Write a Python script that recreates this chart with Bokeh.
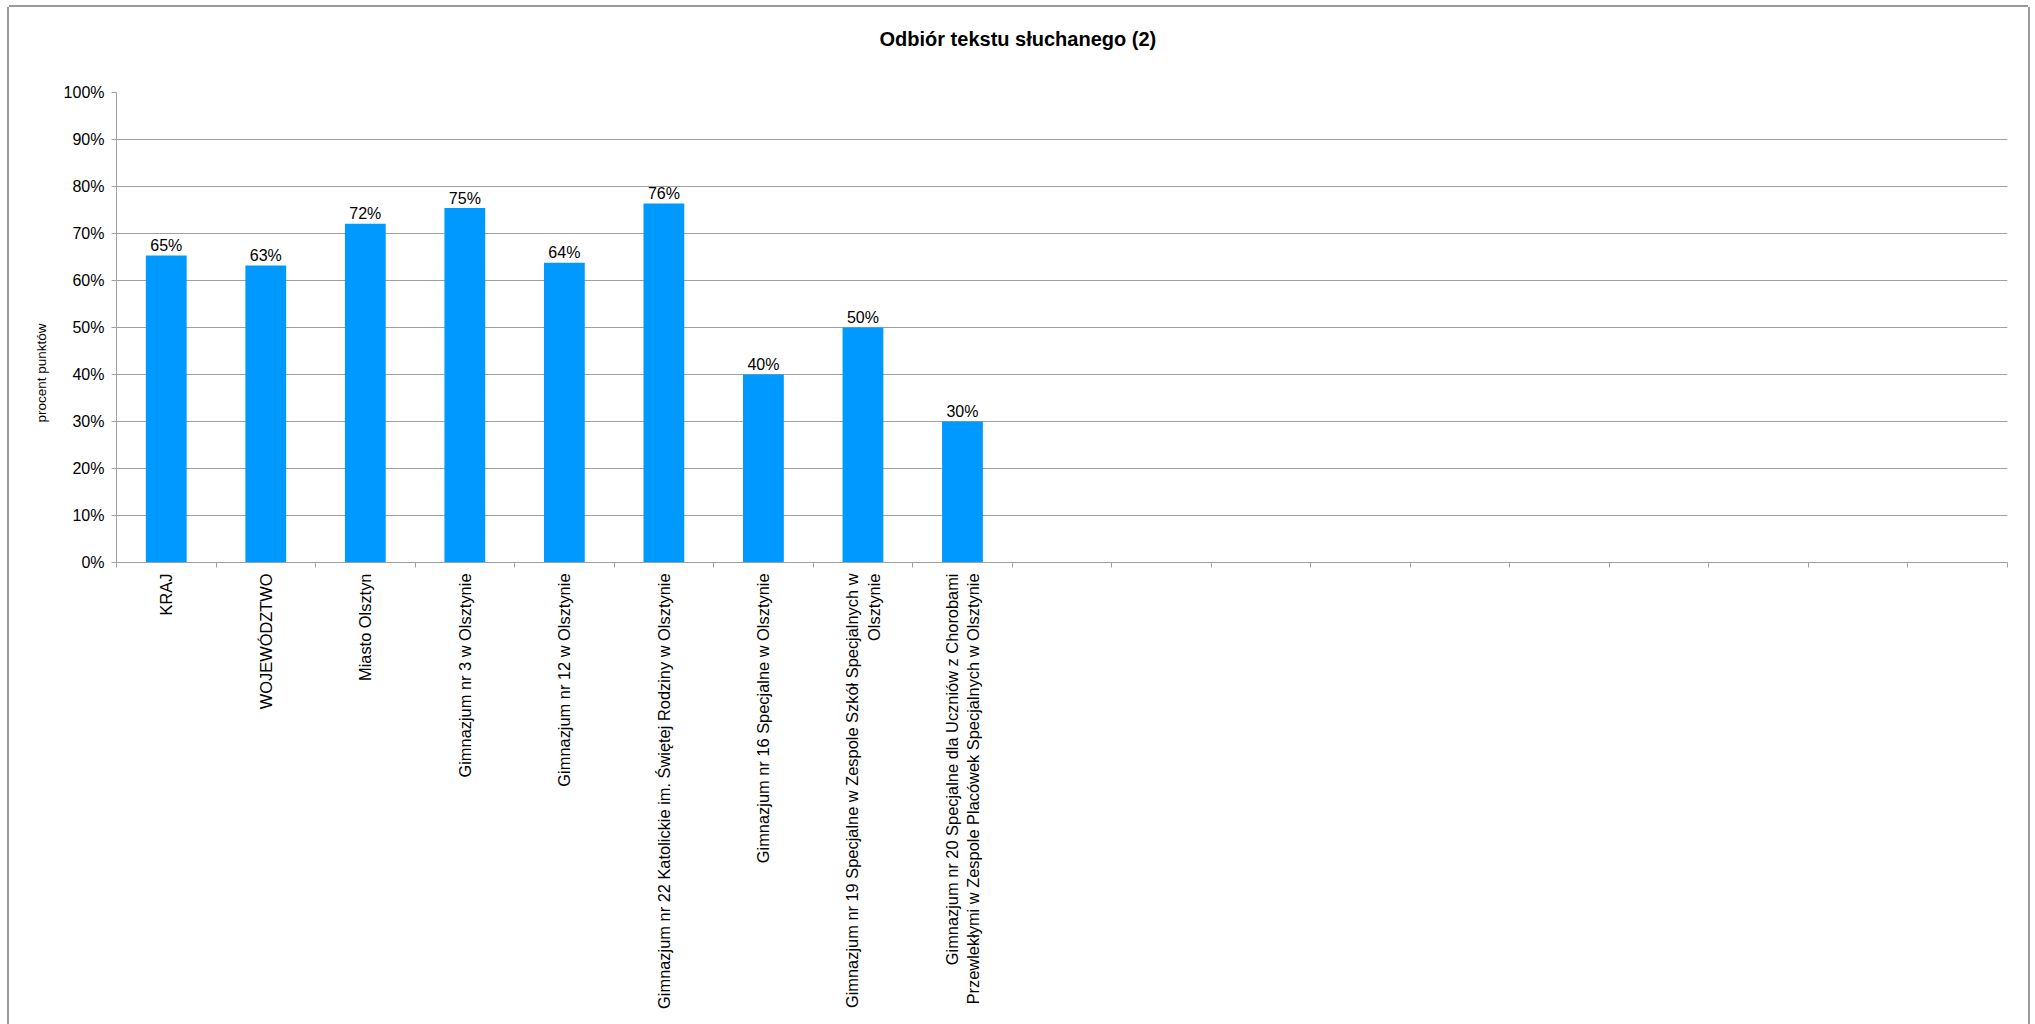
import math
from bokeh.plotting import figure
from bokeh.models import Range1d, FixedTicker, PrintfTickFormatter, Label, ColumnDataSource, Title
from bokeh.embed import file_html
from bokeh.resources import INLINE

# ---------------- data ----------------
title_text = "Odbiór tekstu słuchanego (2)"
y_axis_title = "procent punktów"
categories = [
    "KRAJ",
    "WOJEWÓDZTWO",
    "Miasto Olsztyn",
    "Gimnazjum nr 3 w Olsztynie",
    "Gimnazjum nr 12 w Olsztynie",
    "Gimnazjum nr 22 Katolickie im. Świętej Rodziny w Olsztynie",
    "Gimnazjum nr 16 Specjalne w Olsztynie",
    "Gimnazjum nr 19 Specjalne w Zespole Szkół Specjalnych w\nOlsztynie",
    "Gimnazjum nr 20 Specjalne dla Uczniów z Chorobami\nPrzewlekłymi w Zespole Placówek Specjalnych w Olsztynie",
]
n_slots = 19  # total category slots on the axis (10 empty)
values = [65.3, 63.2, 72.1, 75.4, 63.8, 76.4, 40.0, 50.0, 30.0]
value_labels = ["65%", "63%", "72%", "75%", "64%", "76%", "40%", "50%", "30%"]
y_ticks = [0, 10, 20, 30, 40, 50, 60, 70, 80, 90, 100]

# ---------------- style ----------------
FONT = "Liberation Sans"
GRID = "#a0a0a0"
BAR = "#0099ff"

p = figure(
    width=2019, height=1017,
    x_range=Range1d(0, n_slots), y_range=Range1d(0, 100),
    output_backend="svg", toolbar_location=None,
    min_border_left=107, min_border_right=21,
    min_border_top=85, min_border_bottom=462,
)
p.title = None
p.styles = {"margin-left": "9px", "margin-top": "7px",
            "box-shadow": "-2px 0 0 #9a9a9a, 2px 0 0 #9a9a9a, 0 -2px 0 #9a9a9a"}
p.outline_line_color = None
p.background_fill_color = "white"
p.border_fill_color = "white"

# spacer between frame and title (nearest to frame), then the title
p.add_layout(Title(text=" ", text_font_size="1px", standoff=40), "above")
p.add_layout(Title(text=title_text, align="left", offset=763, standoff=0,
                   text_font=FONT, text_font_size="20px", text_font_style="bold",
                   text_color="black"), "above")

# x axis: labels at category centres, minor ticks at category boundaries
centers = [i + 0.5 for i in range(len(categories))]
p.xaxis.ticker = FixedTicker(ticks=centers, minor_ticks=list(range(n_slots + 1)))
p.xaxis.major_label_overrides = {c: t for c, t in zip(centers, categories)}
p.xaxis.major_label_orientation = math.pi / 2
p.xaxis.major_label_standoff = 6
p.xaxis.major_label_text_align = "center"
p.xaxis.major_label_text_font = FONT
p.xaxis.major_label_text_font_size = "16.4px"
p.xaxis.major_label_text_color = "black"
p.xaxis.axis_line_color = GRID
p.xaxis.major_tick_line_color = None
p.xaxis.major_tick_out = 0
p.xaxis.major_tick_in = 0
p.xaxis.minor_tick_line_color = GRID
p.xaxis.minor_tick_out = 5
p.xaxis.minor_tick_in = 0
p.xgrid.visible = False

# y axis
p.yaxis.ticker = FixedTicker(ticks=y_ticks)
p.yaxis.formatter = PrintfTickFormatter(format="%d%%")
p.yaxis.axis_line_color = GRID
p.yaxis.major_tick_line_color = GRID
p.yaxis.major_tick_out = 5
p.yaxis.major_tick_in = 0
p.yaxis.minor_tick_line_color = None
p.yaxis.major_label_standoff = 7
p.yaxis.major_label_text_font = FONT
p.yaxis.major_label_text_font_size = "16px"
p.yaxis.major_label_text_color = "black"
p.ygrid.ticker = FixedTicker(ticks=y_ticks)
p.ygrid.grid_line_color = GRID

# y axis title
p.add_layout(Title(text=y_axis_title, align="left", offset=140, standoff=24,
                   text_font=FONT, text_font_size="13.5px", text_font_style="normal",
                   text_color="black"), "left")

# bars
src = ColumnDataSource(dict(x=centers, top=values))
p.vbar(x="x", top="top", bottom=0, width=0.41, source=src,
       fill_color=BAR, line_color=None)

# value labels
for x, v, t in zip(centers, values, value_labels):
    p.add_layout(Label(x=x, y=v, text=t, y_offset=10,
                       text_align="center", text_baseline="middle",
                       text_font=FONT, text_font_size="16px", text_color="black"))

open("out.html", "w").write(file_html(p, INLINE))
